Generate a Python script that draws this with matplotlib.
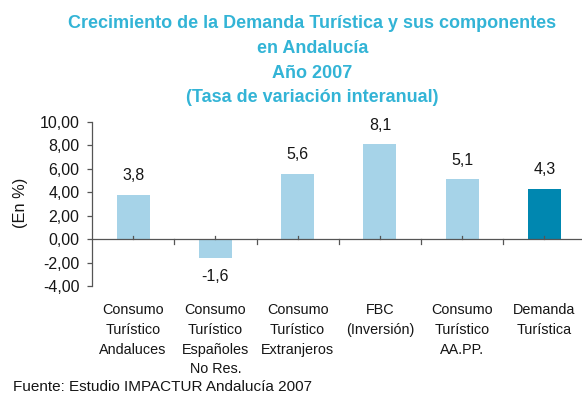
import matplotlib
matplotlib.use("Agg")
import matplotlib.pyplot as plt
from matplotlib.ticker import FixedLocator, FuncFormatter

plt.rcParams['font.family'] = ['Liberation Sans', 'DejaVu Sans']

categories = [
    "Consumo\nTurístico\nAndaluces",
    "Consumo\nTurístico\nEspañoles\nNo Res.",
    "Consumo\nTurístico\nExtranjeros",
    "FBC\n(Inversión)",
    "Consumo\nTurístico\nAA.PP.",
    "Demanda\nTurística",
]
values = [3.8, -1.6, 5.6, 8.1, 5.1, 4.3]
value_labels = ["3,8", "-1,6", "5,6", "8,1", "5,1", "4,3"]
y_ticks = [-4, -2, 0, 2, 4, 6, 8, 10]

light = "#A6D3E8"
dark = "#0087B0"
colors = [light] * 5 + [dark]
title_color = "#33B4D6"
axis_color = "#555555"
text_color = "#151515"

W, H = 582, 396
fig = plt.figure(figsize=(W / 100, H / 100), dpi=100)
# axes box in pixels: left 92, right 585.6, top 122, bottom 286
ax = fig.add_axes([92 / W, 1 - 286 / H, (585.6 - 92) / W, (286 - 122) / H])

x = list(range(len(values)))
ax.bar(x, values, width=0.4, color=colors, zorder=2)

ax.set_xlim(-0.5, 5.5)
ax.set_ylim(-4, 10)

for xi, v, lab in zip(x, values, value_labels):
    off = 13.7 if v >= 0 else -13.7
    ax.annotate(lab, (xi, v), xytext=(0, off), textcoords="offset points",
                ha="center", va="center", fontsize=11.5, color=text_color)

# left axis and zero line
for s in ["top", "right", "bottom"]:
    ax.spines[s].set_visible(False)
ax.spines["left"].set_color(axis_color)
ax.spines["left"].set_linewidth(0.9)
ax.axhline(0, color=axis_color, linewidth=0.9, zorder=3)

ax.yaxis.set_major_locator(FixedLocator(y_ticks))
ax.yaxis.set_major_formatter(FuncFormatter(lambda v, p: f"{v:.2f}".replace(".", ",")))
ax.tick_params(axis="y", direction="out", length=3.6, width=0.9, color=axis_color,
               labelsize=11.5, labelcolor=text_color, pad=5.5)

# x ticks: boundary ticks below the zero line, centre ticks above it
ax.set_xticks([])
for b in [0.5, 1.5, 2.5, 3.5, 4.5]:
    ax.plot([b, b], [0, -0.43], color=axis_color, linewidth=0.9, zorder=3, clip_on=False)
for c in x:
    ax.plot([c, c], [0, 0.3], color=axis_color, linewidth=0.9, zorder=3)

for xi, cat in zip(x, categories):
    ax.text(xi, -5.46, cat, ha="center", va="top", fontsize=10.4,
            linespacing=1.52, color=text_color)

fig.text(20.7 / W, 1 - 203 / H, "(En %)", rotation=90, ha="center", va="center",
         fontsize=11.8, color=text_color)

fig.text(312.5 / W, 1 - 15.4 / H,
         "Crecimiento de la Demanda Turística y sus componentes\nen Andalucía\nAño 2007\n(Tasa de variación interanual)",
         ha="center", va="top", fontsize=13, fontweight="bold",
         color=title_color, linespacing=1.59)

fig.text(13 / W, 1 - 391 / H, "Fuente: Estudio IMPACTUR Andalucía 2007",
         ha="left", va="baseline", fontsize=11, color=text_color)

fig.savefig("out.png", dpi=100)
